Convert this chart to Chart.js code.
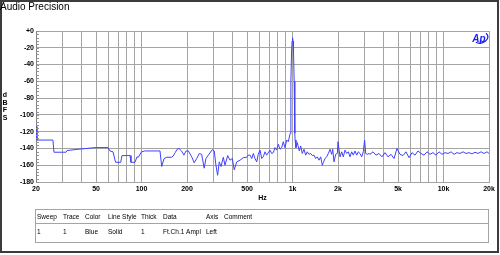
<!DOCTYPE html>
<html>
<head>
<meta charset="utf-8">
<script src="https://cdn.jsdelivr.net/npm/chart.js@4/dist/chart.umd.min.js"></script>
<style>
  html,body{margin:0;padding:0;background:#fff;}
  #wrap{width:500px;height:255px;}
</style>
</head>
<body>
<div id="wrap"><canvas id="fft" width="500" height="255"></canvas></div>
<script>
// --- data ---
var freqHz = [20,20.3,25.9,26.3,31.6,32.1,37.9,43.5,49.2,60,61.8,64.7,67.3,72.8,74.2,83.9,85.1,90.5,93.3,95.2,
  100,105,132.5,136,141,147,158,162,167,172,177,184,191,197,204,215,223,232,241,250,
  260,267,277,294,303,311,319,327,336,348,357,372,385,399,411,427,449,472,497,509,
  523,537,550,564,579,593,609,625,640,657,674,709,728,746,765,785,805,826,848,868,
  891,915,937,965,975,985,993,1000,1007,1015,1025,1035,1040,1054,1075,1109,1132,1160,1191,1222,
  1252,1285,1319,1351,1387,1423,1459,1497,1536,1574,1598,1640,1684,1725,1770,1817,1845,1882,1931,1979,
  2000,2062,2116,2168,2226,2284,2341,2402,2464,2526,2592,2659,2726,2797,2871,2942,3000,3052,3126,3208,
  3258,3411,3571,3737,3912,4096,4287,4488,4699,4918,5149,5390,5641,5906,6182,6471,6775,7092,7424,7772,
  8136,8516,8915,9333,9769,10226,10706,11206,11731,12281,12855,13457,14088,14747,15437,16160,16917,17705,18534,19402,20000];
var levelDb = [-114,-130,-130,-144.5,-144.5,-142.5,-141,-140,-139,-139,-143,-144,-156.5,-156.5,-148.5,-148.5,-156.5,-156.5,-150,-150.5,
  -144,-143,-143,-161.5,-152,-150.5,-150.5,-149,-145,-141,-140,-143,-148,-143,-143,-150,-157,-152,-146,-147,
  -163.5,-152,-148,-141.5,-143,-160,-172,-156,-161.5,-150.5,-160,-148.5,-154,-152,-165.5,-156,-154,-151,-150.5,-148,
  -148,-152,-146,-152,-156,-147,-142,-152,-150,-144,-148,-142,-146,-145,-139,-142,-135,-141,-139,-132,
  -139,-130,-132,-122,-60,-25,-12,-8,-12,-25,-60,-122,-130,-139,-133,-143,-137,-146,-141,-148,
  -144,-147,-146,-148.5,-148,-152,-150,-154,-150,-160,-157,-152,-150,-146,-141,-147,-141,-156,-147,-146,
  -132,-150,-144,-150,-142,-146,-144,-150,-144,-148,-143,-148,-144,-146,-150,-144,-130,-146,-147,-146,
  -147,-144,-148,-146,-150,-145,-150,-147,-152,-140,-147,-148.5,-144,-151,-145,-148,-143,-146,-148,-144,
  -147,-145,-148,-144,-147,-145,-146,-144,-147,-145,-146,-144,-146,-145,-146.5,-144.5,-146,-144,-146,-144,-146];

var gridFreqs = [20,30,40,50,60,70,80,90,100,200,300,400,500,600,700,800,900,
  1000,2000,3000,4000,5000,6000,7000,8000,9000,10000,20000];
var xLabels = {20:'20',50:'50',100:'100',200:'200',500:'500',1000:'1k',2000:'2k',5000:'5k',10000:'10k',20000:'20k'};

var tableHead = ['Sweep','Trace','Color','Line Style','Thick','Data','Axis','Comment'];
var tableRow  = ['1','1','Blue','Solid','1','Ft.Ch.1 Ampl','Left',''];
var tableCols = [37,63,85,108,141,163,206,224];

var FONT = '"Liberation Sans", Arial, sans-serif';
var GRID = '#a4a4a4';

// --- extra drawing: frame, titles, minor ticks, table, logo ---
var decor = {
  id:'decor',
  afterDraw:function(chart){
    var c = chart.ctx, ca = chart.chartArea, ys = chart.scales.y;
    c.save();

    // minor ticks on left axis
    c.strokeStyle = '#909090'; c.lineWidth = 1;
    for(var v=0; v>=-180; v-=4){
      var py = Math.round(ys.getPixelForValue(v)) + 0.5;
      c.beginPath(); c.moveTo(ca.left, py); c.lineTo(ca.left+3, py); c.stroke();
    }

    // outer frame
    c.strokeStyle = '#3c3c3c'; c.lineWidth = 2;
    c.strokeRect(1,1,497,251);

    c.fillStyle = '#000';
    c.textBaseline = 'alphabetic';
    c.font = '10px ' + FONT;
    c.textAlign = 'left';
    c.fillText('Audio Precision', 0, 10);

    // dBFS stacked
    c.font = 'bold 7px ' + FONT;
    c.textAlign = 'center';
    ['d','B','F','S'].forEach(function(ch,i){ c.fillText(ch, 5, 97 + i*7.5); });

    // Hz
    c.font = 'bold 7px ' + FONT;
    c.fillText('Hz', (ca.left+ca.right)/2, 200);

    // table
    c.strokeStyle = GRID; c.lineWidth = 1;
    c.strokeRect(35.5,209.5,453,33);
    c.beginPath(); c.moveTo(35.5,223.5); c.lineTo(489,223.5); c.stroke();
    c.font = '6.5px ' + FONT;
    c.textAlign = 'left';
    c.fillStyle = '#000';
    tableHead.forEach(function(t,i){ c.fillText(t, tableCols[i], 218.5); });
    tableRow.forEach(function(t,i){ if(t) c.fillText(t, tableCols[i], 234); });

    // AP logo
    c.strokeStyle = '#1a1aff'; c.fillStyle = '#1a1aff'; c.lineWidth = 1.3;
    c.beginPath(); c.ellipse(480.5, 37.5, 7.5, 5.5, -0.2, -0.6, 2.4); c.stroke();
    c.font = 'italic bold 10px ' + FONT;
    c.textAlign = 'center';
    c.fillText('Ap', 479, 41.5);

    c.restore();
  }
};

new Chart(document.getElementById('fft'), {
  type:'line',
  data:{
    datasets:[{
      data: freqHz.map(function(f,i){ return {x:f, y:levelDb[i]}; }),
      borderColor:'#4040ff',
      borderWidth:1,
      pointRadius:0,
      tension:0,
      fill:false
    }]
  },
  options:{
    responsive:false,
    animation:false,
    devicePixelRatio:1,
    layout:{padding:{top:31,right:11,left:0,bottom:0}},
    plugins:{legend:{display:false},tooltip:{enabled:false}},
    scales:{
      x:{
        type:'logarithmic', min:20, max:20000,
        afterBuildTicks:function(s){ s.ticks = gridFreqs.map(function(v){ return {value:v}; }); },
        afterFit:function(s){ s.height = 73; },
        grid:{color:GRID, drawTicks:false},
        border:{color:GRID},
        ticks:{autoSkip:false, maxRotation:0, padding:3, color:'#000',
          font:{family:FONT, size:7, weight:'bold'},
          callback:function(v){ return xLabels[v] || ''; }}
      },
      y:{
        min:-180, max:0,
        afterFit:function(s){ s.width = 36; },
        grid:{color:GRID, drawTicks:false},
        border:{color:'#808080'},
        ticks:{stepSize:20, padding:2, color:'#000',
          font:{family:FONT, size:7, weight:'bold'},
          callback:function(v){ return v === 0 ? '+0' : String(v); }}
      }
    }
  },
  plugins:[decor]
});
</script>
</body>
</html>
